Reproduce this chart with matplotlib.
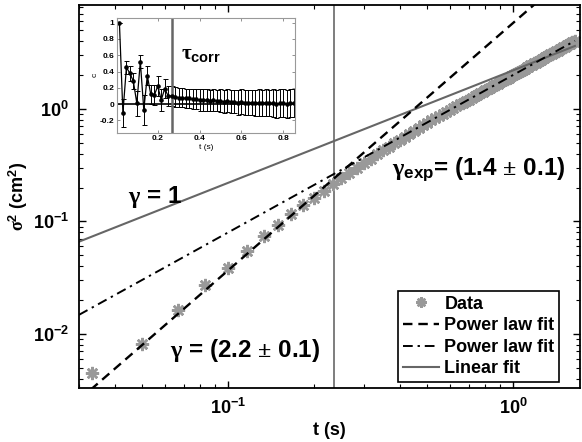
import numpy as np
import matplotlib.pyplot as plt

plt.rcParams['font.family'] = ['Liberation Sans', 'DejaVu Sans']
plt.rcParams['font.weight'] = 'bold'
plt.rcParams['mathtext.fontset'] = 'custom'
plt.rcParams['mathtext.rm'] = 'Liberation Serif'
plt.rcParams['mathtext.it'] = 'Liberation Serif:italic'
plt.rcParams['mathtext.bf'] = 'Liberation Sans:bold'

# main data: sigma^2 vs t, frames at 60 Hz
frame_rate = 60.0
frames = np.arange(2, 100)
sigma2 = [0.0045, 0.0081, 0.0163, 0.0273, 0.0385, 0.0548, 0.0736, 0.0927, 0.117, 0.140,
          0.163, 0.186, 0.213, 0.242, 0.270, 0.300, 0.331, 0.362, 0.395, 0.428,
          0.462, 0.497, 0.532, 0.567, 0.603, 0.640, 0.677, 0.714, 0.752, 0.790,
          0.826, 0.864, 0.900, 0.941, 0.975, 1.018, 1.052, 1.096, 1.130, 1.175,
          1.212, 1.256, 1.293, 1.339, 1.376, 1.422, 1.460, 1.507, 1.546, 1.595,
          1.633, 1.683, 1.722, 1.773, 1.812, 1.864, 1.903, 1.956, 1.996, 2.050,
          2.090, 2.145, 2.185, 2.241, 2.281, 2.338, 2.379, 2.437, 2.478, 2.537,
          2.577, 2.637, 2.678, 2.738, 2.780, 2.840, 2.883, 2.945, 2.987, 3.049,
          3.092, 3.155, 3.199, 3.262, 3.305, 3.370, 3.414, 3.479, 3.523, 3.589,
          3.633, 3.699, 3.744, 3.811, 3.856, 3.924, 3.969, 4.037]
t_data = frames / frame_rate

# fits: (amplitude, exponent)
fit_short = (5.8, 2.2)
fit_long = (2.0, 1.4)
fit_lin = (2.2, 1.0)
fit_range = [0.03, 1.65]
t_corr_main = 0.235

# inset: correlation function
inset_frames = np.arange(1, 52)
c_vals = [1.00, -0.11, 0.45, 0.38, 0.28, 0.01, 0.52, -0.07, 0.35, 0.12,
          0.11, 0.22, 0.05, 0.19, 0.10, 0.10, 0.09, 0.08, 0.08, 0.07,
          0.07, 0.06, 0.06, 0.05, 0.05, 0.05, 0.04, 0.05, 0.04, 0.04,
          0.03, 0.04, 0.03, 0.03, 0.02, 0.03, 0.02, 0.02, 0.02, 0.01,
          0.02, 0.01, 0.02, 0.01, 0.01, 0.00, 0.01, 0.01, 0.00, 0.01, 0.01]
c_err = [0.00, 0.17, 0.08, 0.09, 0.10, 0.15, 0.08, 0.18, 0.12, 0.12,
         0.12, 0.12, 0.14, 0.12, 0.12, 0.12, 0.12, 0.12, 0.12, 0.12,
         0.12, 0.12, 0.12, 0.13, 0.13, 0.13, 0.13, 0.13, 0.13, 0.14,
         0.14, 0.14, 0.14, 0.14, 0.15, 0.15, 0.15, 0.15, 0.15, 0.16,
         0.16, 0.16, 0.16, 0.16, 0.17, 0.17, 0.17, 0.17, 0.17, 0.17, 0.17]
t_in = inset_frames / frame_rate
t_corr = 0.266

fig = plt.figure(figsize=(5.82, 4.42), dpi=100)
ax = fig.add_axes([0.135, 0.1222, 0.8617, 0.8665])

ax.plot(t_data, sigma2, linestyle='none', marker=(8, 2, 0), ms=9.5, mew=1.8,
        color='0.6', label='Data', zorder=2)
tt = np.array([0.03, 1.8])
ax.plot(tt, fit_short[0] * tt ** fit_short[1], '--', color='k', lw=1.7,
        dashes=(4, 2.5), label='Power law fit', zorder=3)
tr = np.array(fit_range)
ax.plot(tr, fit_long[0] * tr ** fit_long[1], '-.', color='k', lw=1.4,
        dashes=(5, 2.5, 1.2, 2.5), label='Power law fit', zorder=3)
ax.plot(tr, fit_lin[0] * tr ** fit_lin[1], '-', color='0.4', lw=1.5,
        label='Linear fit', zorder=2)
ax.axvline(t_corr_main, color='0.45', lw=1.3, zorder=1)

ax.set_xscale('log')
ax.set_yscale('log')
ax.set_xlim(0.0299, 1.72)
ax.set_ylim(0.0033, 8.4)
ax.set_xticks([0.1, 1])
ax.set_xticklabels([r'$\mathbf{10^{-1}}$', r'$\mathbf{10^{0}}$'], fontsize=13)
ax.set_yticks([0.01, 0.1, 1])
ax.set_yticklabels([r'$\mathbf{10^{-2}}$', r'$\mathbf{10^{-1}}$', r'$\mathbf{10^{0}}$'], fontsize=13)
ax.tick_params(which='both', direction='in', top=True, right=True)
ax.tick_params(which='major', length=5, width=1, pad=7)
ax.tick_params(which='minor', length=3, width=0.8)
for s in ax.spines.values():
    s.set_linewidth(1.3)

ax.set_xlabel('t (s)', fontsize=13, fontweight='bold', labelpad=3)
ax.set_ylabel(r'$\mathrm{\sigma}^{\mathbf{2}}$ (cm$^{\mathbf{2}}$)', fontsize=13,
              fontweight='bold', labelpad=2)

ax.text(0.0446, 0.1445, r'$\mathrm{\gamma}$ = 1', fontsize=17.5, fontweight='bold')
ax.text(0.0626, 0.00625, r'$\mathrm{\gamma}$ = (2.2 $\mathrm{\pm}$ 0.1)', fontsize=17.5,
        fontweight='bold')
ax.text(0.376, 0.259, r'$\mathrm{\gamma}_{\mathbf{exp}}$= (1.4 $\mathrm{\pm}$ 0.1)',
        fontsize=17.5, fontweight='bold')

leg = ax.legend(loc='lower right', bbox_to_anchor=(0.958, 0.016), fontsize=13,
                frameon=True, fancybox=False, edgecolor='k', framealpha=1,
                handlelength=2.0, handletextpad=0.3, labelspacing=0.25,
                borderpad=0.25, borderaxespad=0, markerscale=0.8)
leg.get_frame().set_linewidth(1.2)

# inset
axin = fig.add_axes([0.201, 0.6998, 0.306, 0.260])
axin.errorbar(t_in, c_vals, yerr=c_err, fmt='-o', color='k', ms=2.3, lw=0.9,
              elinewidth=0.7, capsize=1.8, capthick=0.7)
axin.axhline(0, color='k', lw=1.2)
axin.axvline(t_corr, color='0.4', lw=1.8)
axin.set_xlim(0.005, 0.857)
axin.set_ylim(-0.35, 1.06)
axin.set_xticks([0.2, 0.4, 0.6, 0.8])
axin.set_yticks([-0.2, 0, 0.2, 0.4, 0.6, 0.8, 1])
axin.set_yticklabels(['-0.2', '0', '0.2', '0.4', '0.6', '0.8', '1'])
axin.tick_params(direction='in', labelsize=6, length=2, width=0.6, pad=2,
                 top=True, right=True, colors='0.5', labelcolor='k')
for s in axin.spines.values():
    s.set_color('0.6')
    s.set_linewidth(0.8)
axin.set_xlabel('t (s)', fontsize=6, labelpad=1)
axin.set_ylabel('c', fontsize=6, labelpad=1)
axin.text(0.31, 0.55, r'$\mathrm{\tau}_{\mathbf{corr}}$', fontsize=15)

fig.savefig('out.png', dpi=100)
